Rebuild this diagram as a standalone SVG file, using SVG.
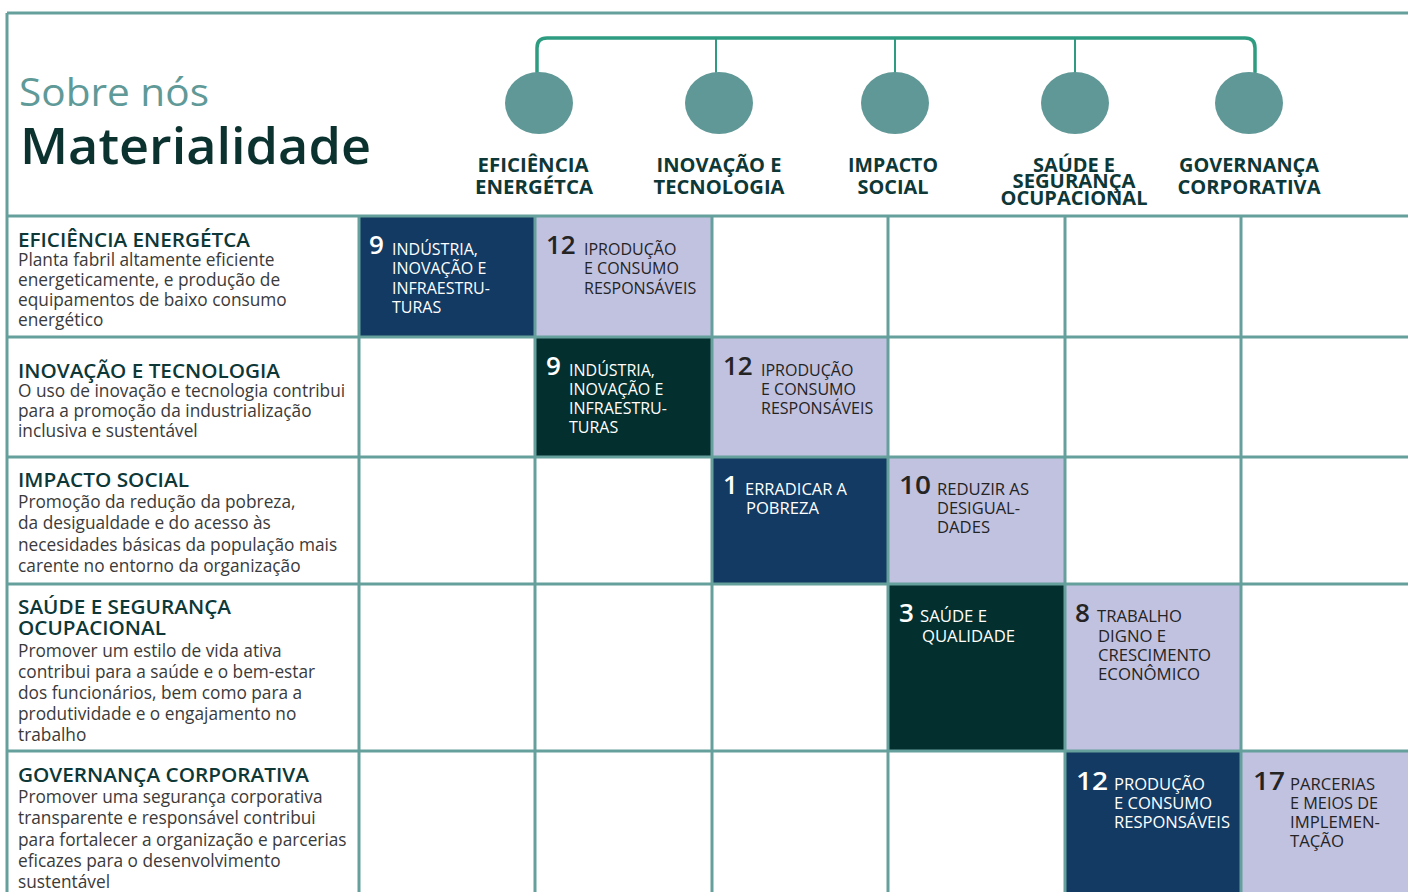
<svg xmlns="http://www.w3.org/2000/svg" width="1408" height="892" viewBox="0 0 1408 892">
<style>
text{font-family:"Open Sans","Noto Sans","Liberation Sans",sans-serif}
.grid{stroke:#66a09c;stroke-width:3;fill:none}
.circ{fill:#5f9896}
.hl{font-size:20px;font-weight:700;fill:#0d3837}
.rh{font-size:20px;font-weight:600;fill:#0d3837}
.rb{font-size:17.3px;font-weight:400;fill:#3a3a3a}
.num{font-size:26px;font-weight:600}
.lab{font-size:16px;font-weight:400}
.w{fill:#ffffff}
.d{fill:#242424}
.navy{fill:#133a62}
.dg{fill:#032f2e}
.lav{fill:#c1c1e0}
.conn{stroke:#2e9c80;fill:none;stroke-linecap:round}
</style>
<rect width="1408" height="892" fill="#ffffff"/>

<g id="title">
<text x="19" y="106" font-size="38" font-weight="400" fill="#5f9a98" textLength="190" lengthAdjust="spacingAndGlyphs">Sobre nós</text>
<text x="20" y="164" font-size="50" font-weight="600" fill="#0c3230" textLength="351" lengthAdjust="spacingAndGlyphs">Materialidade</text>
</g>

<g id="connectors">
<path class="conn" stroke-width="3.5" d="M537,72 V48 Q537,38 547,38 H1245 Q1255,38 1255,48 V72"/>
<path class="conn" stroke-width="2" d="M716,38 V72 M895,38 V72 M1075,38 V72"/>
</g>

<g id="h-eficiencia">
<ellipse class="circ" cx="539" cy="103" rx="34" ry="31"/>
<text class="hl" text-anchor="middle"><tspan x="533" y="172" textLength="111" lengthAdjust="spacingAndGlyphs">EFICIÊNCIA</tspan><tspan x="534" y="194" textLength="118" lengthAdjust="spacingAndGlyphs">ENERGÉTCA</tspan></text>
</g>
<g id="h-inovacao">
<ellipse class="circ" cx="719" cy="103" rx="34" ry="31"/>
<text class="hl" text-anchor="middle"><tspan x="719" y="172" textLength="125" lengthAdjust="spacingAndGlyphs">INOVAÇÃO E</tspan><tspan x="719" y="194" textLength="131" lengthAdjust="spacingAndGlyphs">TECNOLOGIA</tspan></text>
</g>
<g id="h-impacto">
<ellipse class="circ" cx="895" cy="103" rx="34" ry="31"/>
<text class="hl" text-anchor="middle"><tspan x="893" y="172" textLength="90" lengthAdjust="spacingAndGlyphs">IMPACTO</tspan><tspan x="893" y="194" textLength="71" lengthAdjust="spacingAndGlyphs">SOCIAL</tspan></text>
</g>
<g id="h-saude">
<ellipse class="circ" cx="1075" cy="103" rx="34" ry="31"/>
<text class="hl" text-anchor="middle"><tspan x="1074" y="172" textLength="82" lengthAdjust="spacingAndGlyphs">SAÚDE E</tspan><tspan x="1074" y="188" textLength="123" lengthAdjust="spacingAndGlyphs">SEGURANÇA</tspan><tspan x="1074" y="205" textLength="147" lengthAdjust="spacingAndGlyphs">OCUPACIONAL</tspan></text>
</g>
<g id="h-governanca">
<ellipse class="circ" cx="1249" cy="103" rx="34" ry="31"/>
<text class="hl" text-anchor="middle"><tspan x="1249" y="172" textLength="140" lengthAdjust="spacingAndGlyphs">GOVERNANÇA</tspan><tspan x="1249" y="194" textLength="143" lengthAdjust="spacingAndGlyphs">CORPORATIVA</tspan></text>
</g>

<g id="cells">
<rect class="navy" x="359" y="216" width="176" height="121"/>
<rect class="lav" x="535" y="216" width="177" height="121"/>
<rect class="dg" x="535" y="337" width="177" height="120"/>
<rect class="lav" x="712" y="337" width="176" height="120"/>
<rect class="navy" x="712" y="457" width="176" height="127"/>
<rect class="lav" x="888" y="457" width="177" height="127"/>
<rect class="dg" x="888" y="584" width="177" height="167"/>
<rect class="lav" x="1065" y="584" width="176" height="167"/>
<rect class="navy" x="1065" y="751" width="176" height="141"/>
<rect class="lav" x="1241" y="751" width="167" height="141"/>
</g>

<g id="grid">
<path class="grid" d="M7,13 H1408 M7,216 H1408 M7,337 H1408 M7,457 H1408 M7,584 H1408 M7,751 H1408 M7,13 V892 M359,216 V892 M535,216 V892 M712,216 V892 M888,216 V892 M1065,216 V892 M1241,216 V892"/>
</g>

<g id="r-eficiencia">
<text class="rh" x="18" y="247" textLength="232" lengthAdjust="spacingAndGlyphs">EFICIÊNCIA ENERGÉTCA</text>
<text class="rb"><tspan x="18" y="266">Planta fabril altamente eficiente</tspan><tspan x="18" y="286">energeticamente, e produção de</tspan><tspan x="18" y="306">equipamentos de baixo consumo</tspan><tspan x="18" y="326">energético</tspan></text>
</g>
<g id="r-inovacao">
<text class="rh" x="18" y="378" textLength="262" lengthAdjust="spacingAndGlyphs">INOVAÇÃO E TECNOLOGIA</text>
<text class="rb"><tspan x="18" y="397">O uso de inovação e tecnologia contribui</tspan><tspan x="18" y="417">para a promoção da industrialização</tspan><tspan x="18" y="437">inclusiva e sustentável</tspan></text>
</g>
<g id="r-impacto">
<text class="rh" x="18" y="487" textLength="171" lengthAdjust="spacingAndGlyphs">IMPACTO SOCIAL</text>
<text class="rb"><tspan x="18" y="508">Promoção da redução da pobreza,</tspan><tspan x="18" y="529">da desigualdade e do acesso às</tspan><tspan x="18" y="551">necesidades básicas da população mais</tspan><tspan x="18" y="572">carente no entorno da organização</tspan></text>
</g>
<g id="r-saude">
<text class="rh"><tspan x="18" y="614" textLength="213" lengthAdjust="spacingAndGlyphs">SAÚDE E SEGURANÇA</tspan><tspan x="18" y="635" textLength="148" lengthAdjust="spacingAndGlyphs">OCUPACIONAL</tspan></text>
<text class="rb"><tspan x="18" y="657">Promover um estilo de vida ativa</tspan><tspan x="18" y="678">contribui para a saúde e o bem-estar</tspan><tspan x="18" y="699">dos funcionários, bem como para a</tspan><tspan x="18" y="720">produtividade e o engajamento no</tspan><tspan x="18" y="741">trabalho</tspan></text>
</g>
<g id="r-governanca">
<text class="rh" x="18" y="782" textLength="291" lengthAdjust="spacingAndGlyphs">GOVERNANÇA CORPORATIVA</text>
<text class="rb"><tspan x="18" y="803">Promover uma segurança corporativa</tspan><tspan x="18" y="824">transparente e responsável contribui</tspan><tspan x="18" y="846">para fortalecer a organização e parcerias</tspan><tspan x="18" y="867">eficazes para o desenvolvimento</tspan><tspan x="18" y="888">sustentável</tspan></text>
</g>

<g id="c-r1-9">
<text class="num w" x="369" y="254">9</text>
<text class="lab w"><tspan x="392" y="255">INDÚSTRIA,</tspan><tspan x="392" y="274">INOVAÇÃO E</tspan><tspan x="392" y="294">INFRAESTRU-</tspan><tspan x="392" y="313">TURAS</tspan></text>
</g>
<g id="c-r1-12">
<text class="num d" x="546" y="254">12</text>
<text class="lab d"><tspan x="584" y="255">IPRODUÇÃO</tspan><tspan x="584" y="274">E CONSUMO</tspan><tspan x="584" y="294">RESPONSÁVEIS</tspan></text>
</g>
<g id="c-r2-9">
<text class="num w" x="546" y="375">9</text>
<text class="lab w"><tspan x="569" y="376">INDÚSTRIA,</tspan><tspan x="569" y="395">INOVAÇÃO E</tspan><tspan x="569" y="414">INFRAESTRU-</tspan><tspan x="569" y="433">TURAS</tspan></text>
</g>
<g id="c-r2-12">
<text class="num d" x="723" y="375">12</text>
<text class="lab d"><tspan x="761" y="376">IPRODUÇÃO</tspan><tspan x="761" y="395">E CONSUMO</tspan><tspan x="761" y="414">RESPONSÁVEIS</tspan></text>
</g>
<g id="c-r3-1">
<text class="num w" x="723" y="494">1</text>
<text class="lab w"><tspan x="745" y="495" textLength="102" lengthAdjust="spacingAndGlyphs">ERRADICAR A</tspan><tspan x="746" y="514" textLength="73" lengthAdjust="spacingAndGlyphs">POBREZA</tspan></text>
</g>
<g id="c-r3-10">
<text class="num d" x="899" y="494" textLength="32" lengthAdjust="spacingAndGlyphs">10</text>
<text class="lab d"><tspan x="937" y="495" textLength="92" lengthAdjust="spacingAndGlyphs">REDUZIR AS</tspan><tspan x="937" y="514" textLength="83" lengthAdjust="spacingAndGlyphs">DESIGUAL-</tspan><tspan x="937" y="533" textLength="53" lengthAdjust="spacingAndGlyphs">DADES</tspan></text>
</g>
<g id="c-r4-3">
<text class="num w" x="899" y="622">3</text>
<text class="lab w"><tspan x="920" y="622" textLength="67" lengthAdjust="spacingAndGlyphs">SAÚDE E</tspan><tspan x="922" y="642" textLength="93" lengthAdjust="spacingAndGlyphs">QUALIDADE</tspan></text>
</g>
<g id="c-r4-8">
<text class="num d" x="1075" y="622">8</text>
<text class="lab d"><tspan x="1097" y="622" textLength="85" lengthAdjust="spacingAndGlyphs">TRABALHO</tspan><tspan x="1098" y="642" textLength="68" lengthAdjust="spacingAndGlyphs">DIGNO E</tspan><tspan x="1098" y="661" textLength="113" lengthAdjust="spacingAndGlyphs">CRESCIMENTO</tspan><tspan x="1098" y="680" textLength="102" lengthAdjust="spacingAndGlyphs">ECONÔMICO</tspan></text>
</g>
<g id="c-r5-12">
<text class="num w" x="1076" y="790" textLength="32" lengthAdjust="spacingAndGlyphs">12</text>
<text class="lab w"><tspan x="1114" y="790" textLength="91" lengthAdjust="spacingAndGlyphs">PRODUÇÃO</tspan><tspan x="1114" y="809" textLength="98" lengthAdjust="spacingAndGlyphs">E CONSUMO</tspan><tspan x="1114" y="828" textLength="116" lengthAdjust="spacingAndGlyphs">RESPONSÁVEIS</tspan></text>
</g>
<g id="c-r5-17">
<text class="num d" x="1253" y="790" textLength="32" lengthAdjust="spacingAndGlyphs">17</text>
<text class="lab d"><tspan x="1290" y="790" textLength="85" lengthAdjust="spacingAndGlyphs">PARCERIAS</tspan><tspan x="1290" y="809" textLength="88" lengthAdjust="spacingAndGlyphs">E MEIOS DE</tspan><tspan x="1290" y="828" textLength="90" lengthAdjust="spacingAndGlyphs">IMPLEMEN-</tspan><tspan x="1290" y="847" textLength="54" lengthAdjust="spacingAndGlyphs">TAÇÃO</tspan></text>
</g>
</svg>
